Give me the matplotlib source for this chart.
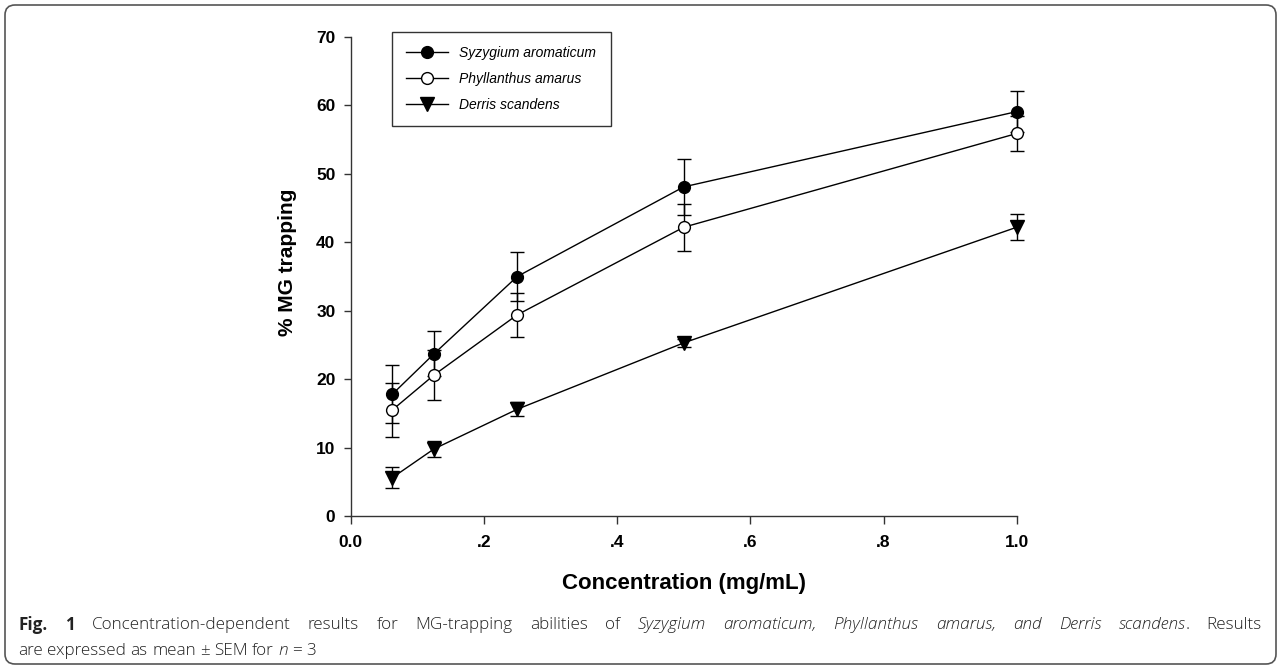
import matplotlib
matplotlib.use("Agg")
import matplotlib.pyplot as plt
from matplotlib.patches import FancyBboxPatch
from matplotlib.transforms import IdentityTransform

# Concentration (mg/mL)
conc = [0.0625, 0.125, 0.25, 0.5, 1.0]

# % MG trapping, mean and SEM
syzygium = [17.8, 23.7, 35.0, 48.1, 59.1]
syzygium_err = [4.2, 3.3, 3.6, 4.1, 3.0]
phyllanthus = [15.5, 20.6, 29.4, 42.2, 55.9]
phyllanthus_err = [4.0, 3.7, 3.2, 3.4, 2.6]
derris = [5.6, 9.8, 15.6, 25.3, 42.2]
derris_err = [1.5, 1.2, 1.0, 0.6, 1.9]

x_ticks = [0.0, 0.2, 0.4, 0.6, 0.8, 1.0]
x_ticklabels = ["0.0", ".2", ".4", ".6", ".8", "1.0"]
y_ticks = [0, 10, 20, 30, 40, 50, 60, 70]

plt.rcParams["font.family"] = ["Liberation Sans", "DejaVu Sans"]

fig = plt.figure(figsize=(12.81, 6.67), dpi=100)
ax = fig.add_axes([0.2738, 0.2264, 0.5199, 0.7181])

series = [
    (syzygium, syzygium_err, "Syzygium aromaticum", "o", "black", 8.5),
    (phyllanthus, phyllanthus_err, "Phyllanthus amarus", "o", "white", 8.5),
    (derris, derris_err, "Derris scandens", "v", "black", 9.5),
]
for values, errs, label, marker, face, msize in series:
    lines = ax.errorbar(
        conc, values, yerr=errs,
        color="black", linewidth=1.0, elinewidth=1.0,
        capsize=5, capthick=1.0,
        marker=marker, markersize=msize, markerfacecolor=face,
        markeredgecolor="black", markeredgewidth=1.0,
        label=label,
    )
    for art in lines.get_children():
        art.set_clip_on(False)

ax.set_xlim(0, 1.0)
ax.set_ylim(0, 70)
ax.set_xticks(x_ticks)
ax.set_xticklabels(x_ticklabels)
ax.set_yticks(y_ticks)
for side in ["top", "right"]:
    ax.spines[side].set_visible(False)
for side in ["left", "bottom"]:
    ax.spines[side].set_linewidth(1.0)
    ax.spines[side].set_color("#333333")
ax.tick_params(axis="y", direction="out", length=5, width=1.0, pad=6,
               labelsize=12.5, color="#333333")
ax.tick_params(axis="x", direction="out", length=5.5, width=1.0, pad=8,
               labelsize=12.5, color="#333333")
for lbl in ax.get_xticklabels() + ax.get_yticklabels():
    lbl.set_fontweight("bold")

ax.set_xlabel("Concentration (mg/mL)", fontsize=16, fontweight="bold", labelpad=17)
ax.set_ylabel("% MG trapping", fontsize=15, fontweight="bold")
ax.yaxis.set_label_coords(-0.081, 0.53)

handles, labels = ax.get_legend_handles_labels()
handles = [h[0] for h in handles]
leg = ax.legend(
    handles, labels, loc="upper left",
    bbox_to_anchor=(0.3058, 0.9525), bbox_transform=fig.transFigure,
    prop={"style": "italic", "size": 10},
    frameon=True, fancybox=False, edgecolor="black",
    handlelength=3.0, handletextpad=0.8, labelspacing=0.85,
    borderpad=1.05, borderaxespad=0,
)
leg.get_frame().set_linewidth(1.0)

# caption below the chart, placed word by word (first line justified)
renderer = fig.canvas.get_renderer()
cap_font = ["Open Sans", "DejaVu Sans"]
cap_size = 12.3
light = "light"

line1 = [("Fig.", "bold", "normal", True), ("1", "bold", "normal", True)]
line1 += [(w, light, "normal", True) for w in
          "Concentration-dependent results for MG-trapping abilities of".split()]
line1 += [(w, light, "italic", True) for w in
          "Syzygium aromaticum, Phyllanthus amarus, and Derris".split()]
line1 += [("scandens", light, "italic", False), (".", light, "normal", True),
          ("Results", light, "normal", False)]
line2 = [(w, light, "normal", True) for w in "are expressed as mean ± SEM for".split()]
line2 += [("n", light, "italic", True), ("=", light, "normal", True),
          ("3", light, "normal", False)]


def place_words(words, y_px, x0, x1=None):
    texts = []
    for w, weight, style, _ in words:
        t = fig.text(0, 1 - y_px / 667, w, fontsize=cap_size, family=cap_font,
                     fontweight=weight, fontstyle=style, va="center", ha="left",
                     color="#222222")
        texts.append(t)
    widths = [t.get_window_extent(renderer).width for t in texts]
    n_gaps = sum(1 for w in words[:-1] if w[3])
    if x1 is None:
        gap = 0.26 * cap_size * 100 / 72
    else:
        gap = (x1 - x0 - sum(widths)) / n_gaps
    x = x0
    for (w, weight, style, space_after), t, wd in zip(words, texts, widths):
        t.set_x(x / 1281)
        x += wd + (gap if space_after else 0)
    return texts


place_words(line1, 625, 18, 1262)
place_words(line2, 651, 18)

frame = FancyBboxPatch((5, 3), 1271, 659, boxstyle="round,pad=0,rounding_size=10",
                       transform=IdentityTransform(), facecolor="none",
                       edgecolor="#555555", linewidth=1.2)
fig.patches.append(frame)

fig.savefig("out.png", dpi=100)
